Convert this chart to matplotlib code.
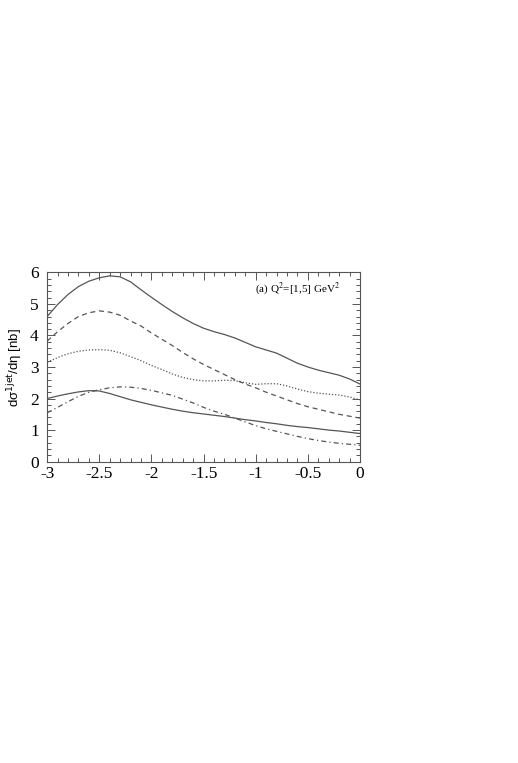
import matplotlib
matplotlib.use("Agg")
import matplotlib.pyplot as plt
from matplotlib.ticker import MultipleLocator

plt.rcParams['font.family'] = ['Liberation Serif', 'DejaVu Serif']
plt.rcParams['mathtext.fontset'] = 'stix'

# eta values (every 0.1)
eta = [-3.0, -2.9, -2.8, -2.7, -2.6, -2.5, -2.4, -2.3, -2.2, -2.1, -2.0,
       -1.9, -1.8, -1.7, -1.6, -1.5, -1.4, -1.3, -1.2, -1.1, -1.0,
       -0.9, -0.8, -0.7, -0.6, -0.5, -0.4, -0.3, -0.2, -0.1, 0.0]

top_solid = [4.60, 4.98, 5.30, 5.55, 5.72, 5.83, 5.89, 5.86, 5.70, 5.45, 5.21,
             4.98, 4.76, 4.56, 4.38, 4.23, 4.12, 4.03, 3.92, 3.78, 3.64,
             3.54, 3.44, 3.28, 3.12, 3.00, 2.90, 2.82, 2.74, 2.62, 2.46]

dashed = [3.82, 4.12, 4.38, 4.60, 4.72, 4.78, 4.74, 4.64, 4.46, 4.30, 4.08,
          3.88, 3.68, 3.46, 3.26, 3.08, 2.92, 2.76, 2.60, 2.46, 2.34,
          2.20, 2.08, 1.96, 1.84, 1.74, 1.66, 1.58, 1.50, 1.44, 1.38]

dotted = [3.15, 3.30, 3.42, 3.50, 3.54, 3.55, 3.53, 3.45, 3.33, 3.20, 3.05,
          2.92, 2.78, 2.67, 2.60, 2.56, 2.56, 2.58, 2.57, 2.50, 2.45,
          2.47, 2.47, 2.40, 2.30, 2.22, 2.17, 2.14, 2.11, 2.05, 1.96]

dashdot = [1.55, 1.72, 1.90, 2.07, 2.20, 2.28, 2.34, 2.37, 2.36, 2.32, 2.26,
           2.18, 2.10, 1.98, 1.86, 1.72, 1.60, 1.50, 1.38, 1.26, 1.14,
           1.04, 0.96, 0.88, 0.80, 0.73, 0.67, 0.62, 0.58, 0.55, 0.52]

low_solid = [2.00, 2.08, 2.15, 2.21, 2.25, 2.24, 2.16, 2.06, 1.96, 1.88, 1.80,
             1.73, 1.66, 1.60, 1.55, 1.51, 1.47, 1.43, 1.38, 1.33, 1.29,
             1.24, 1.20, 1.15, 1.11, 1.08, 1.04, 1.00, 0.97, 0.93, 0.89]

x_ticks = [-3, -2.5, -2, -1.5, -1, -0.5, 0]
x_ticklabels = ['-3', '-2.5', '-2', '-1.5', '-1', '-0.5', '0']
y_ticks = [0, 1, 2, 3, 4, 5, 6]

line_col = '#555555'

fig = plt.figure(figsize=(5.18, 7.63), dpi=100, facecolor='white')
ax = fig.add_axes([0.091, 0.395, 0.604, 0.248])

ax.plot(eta, top_solid, color=line_col, lw=0.9, linestyle='-')
ax.plot(eta, dashed, color=line_col, lw=0.9, linestyle=(0, (4, 3)))
ax.plot(eta, dotted, color=line_col, lw=0.9, linestyle=(0, (1, 1.5)))
ax.plot(eta, dashdot, color=line_col, lw=0.9, linestyle=(0, (4, 2.5, 1, 2.5)))
ax.plot(eta, low_solid, color=line_col, lw=0.9, linestyle='-')

ax.set_xlim(-3, 0)
ax.set_ylim(0, 6)

ax.set_xticks(x_ticks)
ax.set_xticklabels(x_ticklabels)
ax.set_yticks(y_ticks)
ax.set_yticklabels([str(v) for v in y_ticks])
ax.xaxis.set_minor_locator(MultipleLocator(0.1))
ax.yaxis.set_minor_locator(MultipleLocator(0.2))

ax.tick_params(which='both', direction='in', top=True, right=True,
               color=line_col, width=0.7, labelsize=12.5)
ax.tick_params(which='major', length=6)
ax.tick_params(which='minor', length=3)
ax.tick_params(axis='x', which='major', pad=3)
ax.tick_params(axis='y', which='major', pad=6)
for s in ax.spines.values():
    s.set_color(line_col)
    s.set_linewidth(0.8)

ax.set_ylabel('dσ$^{\\rm 1jet}$/dη [nb]', fontsize=9.5, labelpad=4,
              family=['Liberation Sans', 'DejaVu Sans'])
ax.yaxis.label.set_math_fontfamily('dejavusans')

ax.text(0.665, 0.915, '(a) Q$^2$=[1,5] GeV$^2$', transform=ax.transAxes,
        fontsize=8, va='center', ha='left')

fig.savefig('out.png', dpi=100)
